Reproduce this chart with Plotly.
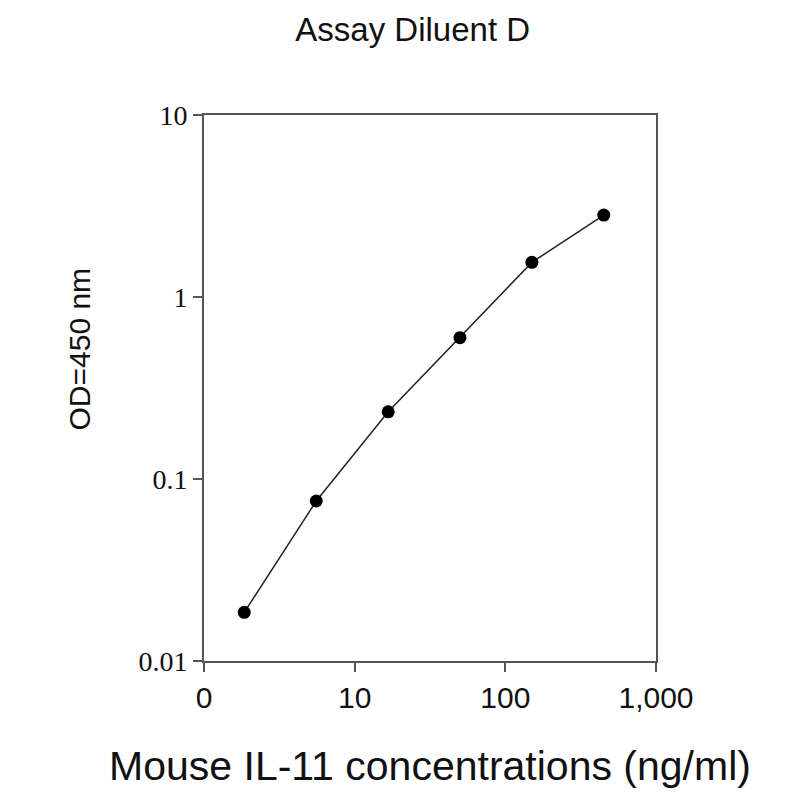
import plotly.graph_objects as go

# Mouse IL-11 standard curve, Assay Diluent D
conc = [1.85, 5.56, 16.7, 50, 150, 450]
od = [0.0185, 0.0757, 0.234, 0.598, 1.55, 2.82]

x_tickvals = [1, 10, 100, 1000]
x_ticktext = ["0", "10", "100", "1,000"]
y_tickvals = [0.01, 0.1, 1, 10]
y_ticktext = ["0.01", "0.1", "1", "10"]

fig = go.Figure()
fig.add_trace(go.Scatter(
    x=conc,
    y=od,
    mode="lines+markers",
    line=dict(color="#222222", width=1.5),
    marker=dict(color="black", size=13),
))

fig.update_layout(
    width=792,
    height=792,
    margin=dict(l=196, r=144, t=107, b=139),
    paper_bgcolor="white",
    plot_bgcolor="white",
    showlegend=False,
    title=dict(
        text="Assay Diluent D",
        x=0.511,
        xanchor="center",
        y=0.973,
        yanchor="middle",
        font=dict(family="Liberation Sans, Arial", size=33, color="#111111"),
    ),
    xaxis=dict(
        type="log",
        range=[0, 3],
        tickvals=x_tickvals,
        ticktext=x_ticktext,
        ticks="outside",
        ticklen=9,
        tickwidth=1.5,
        tickcolor="#555555",
        showline=True,
        linecolor="#555555",
        linewidth=2,
        mirror=True,
        showgrid=False,
        zeroline=False,
        tickfont=dict(family="Liberation Sans, Arial", size=30, color="#111111"),
        title=dict(
            text="Mouse IL-11 concentrations (ng/ml)",
            font=dict(family="Liberation Sans, Arial", size=41, color="#111111"),
            standoff=38,
        ),
    ),
    yaxis=dict(
        type="log",
        range=[-2, 1],
        tickvals=y_tickvals,
        ticktext=y_ticktext,
        ticks="outside",
        ticklen=9,
        tickwidth=1.5,
        tickcolor="#555555",
        showline=True,
        linecolor="#555555",
        linewidth=2,
        mirror=True,
        showgrid=False,
        zeroline=False,
        tickfont=dict(family="Liberation Serif, Times New Roman", size=28, color="#111111"),
    ),
    annotations=[
        dict(
            text="OD=450 nm",
            xref="paper",
            yref="paper",
            x=-0.276,
            y=0.571,
            xanchor="center",
            yanchor="middle",
            textangle=-90,
            showarrow=False,
            font=dict(family="Liberation Sans, Arial", size=30, color="#111111"),
        )
    ],
)

fig.write_html("out.html")
